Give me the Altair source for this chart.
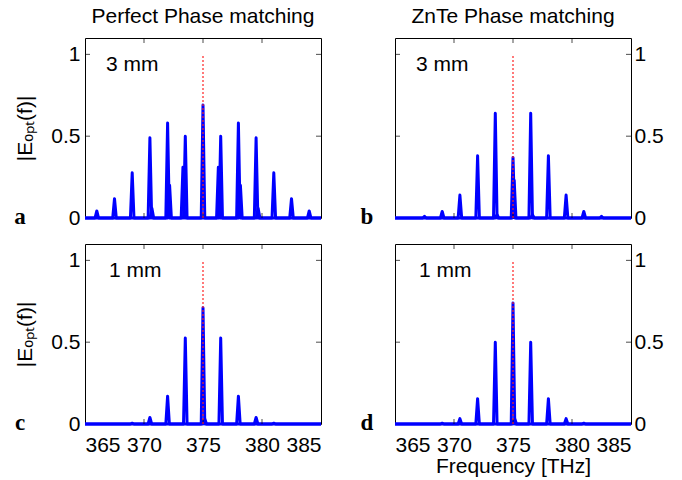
import altair as alt
import pandas as pd

# ---- data ----
peak_freq = [366.0, 367.5, 369.0, 370.5, 372.0, 373.5, 375.0, 376.5, 378.0, 379.5, 381.0, 382.5, 384.0]
amp_a = [0.043, 0.118, 0.276, 0.49, 0.58, 0.50, 0.69, 0.50, 0.58, 0.49, 0.276, 0.118, 0.043]
amp_b = [0.0, 0.01, 0.04, 0.14, 0.38, 0.64, 0.37, 0.64, 0.38, 0.14, 0.04, 0.01, 0.0]
amp_c = [0.0, 0.0, 0.005, 0.04, 0.17, 0.525, 0.71, 0.525, 0.17, 0.04, 0.005, 0.0, 0.0]
amp_d = [0.0, 0.0, 0.005, 0.033, 0.155, 0.50, 0.74, 0.50, 0.155, 0.033, 0.005, 0.0, 0.0]

side_freq_a = [370.67, 372.17, 373.3, 376.3, 378.17, 379.67]
side_amp_a = [0.06, 0.20, 0.31, 0.31, 0.20, 0.06]
side_freq_b = [373.65, 375.1, 376.65]
side_amp_b = [0.02, 0.23, 0.02]
side_freq_c = [375.15]
side_amp_c = [0.03]
side_freq_d = [375.15]
side_amp_d = [0.03]

ref_freq = [375.0]
ref_top = [1.0]

x_ticks = [365, 370, 375, 380, 385]
y_ticks = [0, 0.5, 1]
inner_x_ticks = [370, 375, 380]
inner_y_ticks = [0.5, 1.0]

titles = ["Perfect Phase matching", "ZnTe Phase matching"]
lengths = ["3 mm", "3 mm", "1 mm", "1 mm"]
letters = ["a", "b", "c", "d"]

X_DOM = [365, 385]
Y_DOM = [0, 1.1]
HALF = 0.15  # half base width of a drawn spike (THz)
W, H = 236, 180
FONT = "Liberation Sans"


def spikes(freqs, amps, series):
    fs, vs = [X_DOM[0]], [0.0]
    for f, a in zip(freqs, amps):
        fs += [f - HALF, f, f + HALF]
        vs += [0.0, a, 0.0]
    fs.append(X_DOM[1])
    vs.append(0.0)
    return pd.DataFrame({"freq": fs, "amp": vs, "series": series, "ord": list(range(len(fs)))})


def panel(idx, amps, sfreq, samp, left_axis, bottom_labels, x_title, letter_dx, length_dx):
    df = pd.concat([spikes(peak_freq, amps, "main"), spikes(sfreq, samp, "side")])

    if left_axis:
        yaxis = alt.Axis(orient="left", values=y_ticks, format=".1~f", labelPadding=5,
                         title="|Eₒₚₜ(f)|", titlePadding=15)
    else:
        yaxis = alt.Axis(orient="right", values=y_ticks, format=".1~f", labelPadding=3,
                         labelAlign="left", title=None)
    if bottom_labels:
        xaxis = alt.Axis(values=x_ticks, format="d", labelPadding=10,
                         title=x_title if x_title else None, titlePadding=0)
    else:
        xaxis = alt.Axis(values=x_ticks, labels=False, title=None)

    xs = alt.Scale(domain=X_DOM, nice=False, zero=False)
    ys = alt.Scale(domain=Y_DOM, nice=False, zero=False)
    xe = alt.X("freq:Q", scale=xs, axis=xaxis)
    ye = alt.Y("amp:Q", scale=ys, axis=yaxis)

    line = alt.Chart(df).mark_line(color="#0000ff", strokeWidth=3, strokeJoin="round").encode(
        x=xe, y=ye, detail="series:N", order="ord:Q")

    rule = alt.Chart(pd.DataFrame({"freq": ref_freq, "amp": [0.0] * len(ref_freq), "top": ref_top})).mark_rule(
        color="#ff2020", strokeDash=[2, 2], strokeWidth=1.5, opacity=0.8).encode(
        x=xe, y=ye, y2="top:Q")

    top_t = alt.Chart(pd.DataFrame({"freq": inner_x_ticks, "amp": [Y_DOM[1]] * 3})).mark_tick(
        orient="vertical", size=5, thickness=1, color="black", yOffset=2.5).encode(x=xe, y=ye)
    bot_t = alt.Chart(pd.DataFrame({"freq": inner_x_ticks, "amp": [Y_DOM[0]] * 3})).mark_tick(
        orient="vertical", size=5, thickness=1, color="black", yOffset=-2.5).encode(x=xe, y=ye)
    left_t = alt.Chart(pd.DataFrame({"freq": [X_DOM[0]] * 2, "amp": inner_y_ticks})).mark_tick(
        orient="horizontal", size=5, thickness=1, color="black", xOffset=2.5).encode(x=xe, y=ye)
    right_t = alt.Chart(pd.DataFrame({"freq": [X_DOM[1]] * 2, "amp": inner_y_ticks})).mark_tick(
        orient="horizontal", size=5, thickness=1, color="black", xOffset=-2.5).encode(x=xe, y=ye)

    length_txt = alt.Chart(pd.DataFrame({"t": [lengths[idx]]})).mark_text(
        font=FONT, fontSize=21, align="left", baseline="middle", color="black").encode(
        text="t:N", x=alt.value(length_dx), y=alt.value(27))

    letter_txt = alt.Chart(pd.DataFrame({"t": [letters[idx]]})).mark_text(
        font="Liberation Serif", fontSize=23, fontWeight="bold", align="center",
        baseline="alphabetic", color="black").encode(
        text="t:N", x=alt.value(letter_dx), y=alt.value(186))

    layers = [line, top_t, bot_t, left_t, right_t, rule, length_txt, letter_txt]
    if idx < 2:
        ttl = alt.Chart(pd.DataFrame({"t": [titles[idx]]})).mark_text(
            font=FONT, fontSize=21, align="center", baseline="alphabetic", color="black").encode(
            text="t:N", x=alt.value(W / 2), y=alt.value(-15))
        layers.append(ttl)
    return alt.layer(*layers).properties(width=W, height=H)


pa = panel(0, amp_a, side_freq_a, side_amp_a, True, False, None, -65, 21)
pb = panel(1, amp_b, side_freq_b, side_amp_b, False, False, None, -28, 21)
pc = panel(2, amp_c, side_freq_c, side_amp_c, True, True, None, -65, 24)
pd_ = panel(3, amp_d, side_freq_d, side_amp_d, False, True, "Frequency [THz]", -28, 24)

chart = alt.concat(pa, pb, pc, pd_, columns=2, spacing={"row": 26, "column": 74},
                   bounds="flush").properties(
    padding={"left": 5, "top": -3, "right": 5, "bottom": 0},
    background="white",
).configure_view(stroke="black", strokeWidth=1).configure_axis(
    grid=False, domain=False, ticks=False, tickSize=0,
    labelFont=FONT, labelFontSize=21, labelColor="black",
    titleFont=FONT, titleFontSize=21, titleFontWeight="normal", titleColor="black"
)

chart.save("out.html", embed_options={"renderer": "svg", "actions": False})
